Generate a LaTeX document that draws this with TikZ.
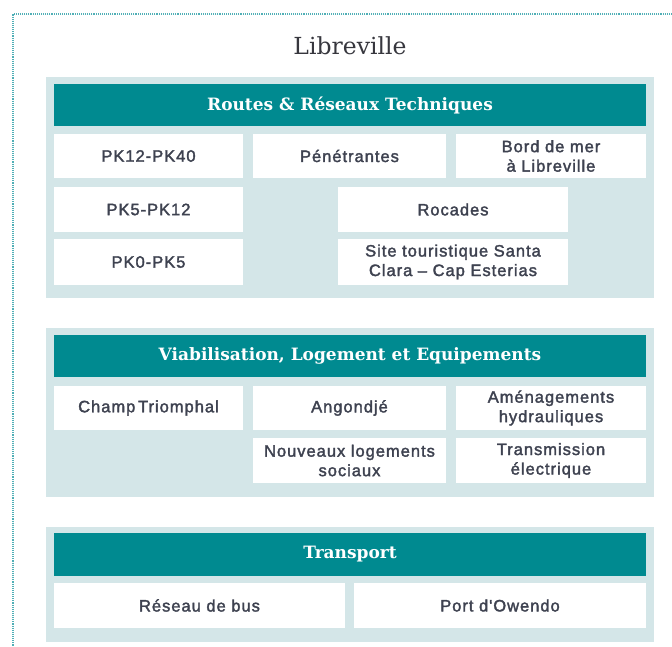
\documentclass[tikz,border=0pt]{standalone}
\usepackage{fontspec}
\usepackage{tikz}
\usetikzlibrary{positioning}
\newfontfamily\cellfont[LetterSpace=6,FakeBold=2]{Liberation Sans}
\newfontfamily\headfont{DejaVu Serif}
\definecolor{lbvteal}{RGB}{0,138,144}
\definecolor{lbvpale}{RGB}{212,230,232}
\definecolor{lbvdots}{RGB}{80,175,182}
\definecolor{lbvink}{RGB}{62,66,80}
\definecolor{lbvtitle}{RGB}{55,55,62}

\begin{document}
\begin{tikzpicture}[x=1pt, y=-1pt,
      panel/.style={fill=lbvpale, inner sep=0pt},
      header/.style={fill=lbvteal, inner sep=0pt, minimum width=592pt, minimum height=42pt, text=white, font=\headfont\bfseries\fontsize{17}{20}\selectfont},
      cell/.style={fill=white, inner sep=0pt, minimum height=44pt, align=center, text=lbvink, font=\cellfont\fontsize{16.5}{19.5}\selectfont}
    ]
      \useasboundingbox (0,0) rectangle (672,646);
      % dotted frame
      \coordinate (frameR) at (672,14);
      \coordinate (frameC) at (13,14);
      \coordinate (frameB) at (13,646);
      \draw[lbvdots, densely dotted, line width=1.1pt] (frameR) -- (frameC) -- (frameB);

      \node[text=lbvtitle, font=\headfont\fontsize{23.5}{27}\selectfont] (title) at (350,46) {Libreville};

      % routes
      \node[panel, minimum width=608pt, minimum height=221pt] (routes) at (350,187.5) {};
      \node[header] (routesH) at (350,105) {Routes \& Réseaux Techniques};
      \node[cell, minimum width=189pt] (pk40) at (148.5,156) {PK12-PK40};
      \node[cell, minimum width=193pt] (penet) at (349.5,156) {Pénétrantes};
      \node[cell, minimum width=190pt] (bord) at (551,156) {Bord de mer\\à Libreville};
      \node[cell, minimum width=189pt, minimum height=45pt] (pk12) at (148.5,209.5) {PK5-PK12};
      \node[cell, minimum width=230pt, minimum height=45pt] (rocades) at (453,209.5) {Rocades};
      \node[cell, minimum width=189pt, minimum height=46pt] (pk5) at (148.5,262) {PK0-PK5};
      \node[cell, minimum width=230pt, minimum height=46pt] (santa) at (453,262) {Site touristique Santa\\Clara – Cap Esterias};

      % viabilisation
      \node[panel, minimum width=608pt, minimum height=169pt] (viab) at (350,412.5) {};
      \node[header] (viabH) at (350,356) {Viabilisation, Logement et Equipements};
      \node[cell, minimum width=189pt] (champ) at (148.5,408) {Champ\,Triomphal};
      \node[cell, minimum width=193pt] (angond) at (349.5,408) {Angondjé};
      \node[cell, minimum width=190pt] (hydro) at (551,408) {Aménagements\\hydrauliques};
      \node[cell, minimum width=193pt, minimum height=45pt] (logts) at (349.5,460.5) {Nouveaux logements\\sociaux};
      \node[cell, minimum width=190pt, minimum height=45pt] (elec) at (551,460.5) {Transmission\\électrique};

      % transport
      \node[panel, minimum width=608pt, minimum height=115pt] (transp) at (350,584.5) {};
      \node[header, minimum height=43pt] (transpH) at (350,554.5) {Transport};
      \node[cell, minimum width=291pt, minimum height=45pt] (bus) at (199.5,605.5) {Réseau de bus};
      \node[cell, minimum width=292pt, minimum height=45pt] (port) at (500,605.5) {Port d'Owendo};
    \end{tikzpicture}
\end{document}
